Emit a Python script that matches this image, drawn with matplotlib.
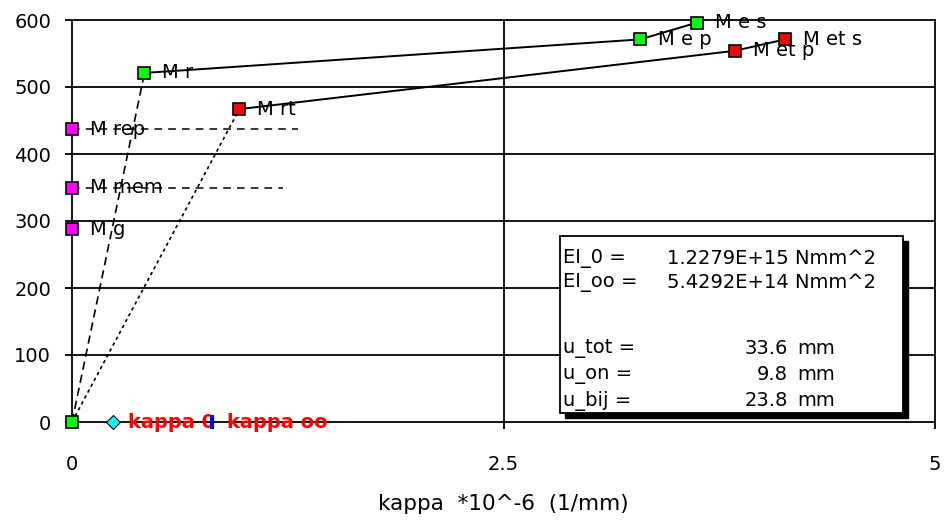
import matplotlib
matplotlib.use("Agg")
import matplotlib.pyplot as plt
from matplotlib.patches import Rectangle

# ---- data ----
green_labels = ["", "M r", "M e p", "M e s"]
green_x = [0.0, 0.42, 3.29, 3.62]
green_y = [0, 521, 571, 596]

red_labels = ["", "M rt", "M et p", "M et s"]
red_x = [0.0, 0.97, 3.84, 4.13]
red_y = [0, 467, 554, 571]

mag_labels = ["M rep", "M mem", "M g"]
mag_y = [437, 350, 288]
mag_line_end = [1.31, 1.22, None]

kappa_labels = ["kappa 0", "kappa oo"]
kappa_x = [0.24, 0.81]

x_ticks = [0, 2.5, 5]
x_ticklabels = ["0", "2.5", "5"]
y_ticks = [0, 100, 200, 300, 400, 500, 600]

box_left = ["EI_0 =", "EI_oo =", "", "u_tot =", "u_on =", "u_bij ="]
box_vals = ["1.2279E+15 Nmm^2", "5.4292E+14 Nmm^2", "", "33.6", "9.8", "23.8"]
box_units = ["", "", "", "mm", "mm", "mm"]

W, H = 944, 521
fs = 14
plt.rcParams['font.family'] = ['DejaVu Sans']

fig = plt.figure(figsize=(W / 100, H / 100), dpi=100)
ax = fig.add_axes([72 / W, 1 - 422 / H, (935 - 72) / W, (422 - 20) / H])
ax.set_xlim(0, 5)
ax.set_ylim(0, 600)

# grid
for y in y_ticks[1:-1]:
    ax.axhline(y, color='black', lw=1.3, zorder=1)
ax.axvline(2.5, color='black', lw=1.3, zorder=1)
for s in ax.spines.values():
    s.set_color('black')
    s.set_linewidth(1.3)

ax.set_xticks(x_ticks)
ax.set_xticklabels(x_ticklabels)
ax.set_yticks(y_ticks)
ax.tick_params(axis='both', direction='out', length=5, width=1.3, labelsize=fs, colors='black')
ax.tick_params(axis='x', pad=19)
ax.tick_params(axis='y', pad=10)
ax.set_xlabel("kappa  *10^-6  (1/mm)", fontsize=15.5, labelpad=14)

# curves: initial branches
ax.plot(green_x[:2], green_y[:2], color='black', lw=1.2, ls=(0, (5, 3)), zorder=2)
ax.plot(red_x[:2], red_y[:2], color='black', lw=1.2, ls=(0, (2, 2)), zorder=2)
ax.plot(green_x[1:], green_y[1:], color='black', lw=1.4, zorder=2)
ax.plot(red_x[1:], red_y[1:], color='black', lw=1.4, zorder=2)

# magenta dashed lines
for yv, xe in zip(mag_y, mag_line_end):
    if xe is not None:
        ax.plot([0, xe], [yv, yv], color='black', lw=1.1, ls=(0, (5, 4)), zorder=2)

ms = 9
ax.plot(green_x, green_y, ls='none', marker='s', ms=ms, mfc='#00ff00', mec='black', mew=1.2, zorder=5, clip_on=False)
ax.plot(red_x[1:], red_y[1:], ls='none', marker='s', ms=ms, mfc='#ff0000', mec='black', mew=1.2, zorder=5, clip_on=False)
ax.plot([0] * len(mag_y), mag_y, ls='none', marker='s', ms=ms, mfc='#ff00ff', mec='black', mew=1.2, zorder=5, clip_on=False)

for lab, x, y in zip(green_labels, green_x, green_y):
    if lab:
        ax.annotate(lab, (x, y), xytext=(18, 0), textcoords='offset pixels', va='center', ha='left', fontsize=fs, zorder=4)
for lab, x, y in zip(red_labels, red_x, red_y):
    if lab:
        ax.annotate(lab, (x, y), xytext=(18, 0), textcoords='offset pixels', va='center', ha='left', fontsize=fs, zorder=4)
for lab, y in zip(mag_labels, mag_y):
    ax.annotate(lab, (0, y), xytext=(18, 0), textcoords='offset pixels', va='center', ha='left', fontsize=fs, zorder=4)

# kappa markers
ax.plot([kappa_x[0]], [0], ls='none', marker='D', ms=7, mfc='#00ffff', mec='black', mew=0.8, zorder=5, clip_on=False)
for lab, x in zip(kappa_labels, kappa_x):
    ax.annotate(lab, (x, 0), xytext=(15, 0), textcoords='offset pixels', va='center', ha='left',
                fontsize=fs, color='#ff0000', fontweight='bold', zorder=4)
ax.plot([kappa_x[1]], [0], ls='none', marker='|', ms=10, mec='#0000ff', mew=3, zorder=6, clip_on=False)

# text box (figure pixel coordinates)
def fx(px):
    return px / W

def fy(py):
    return 1 - py / H

bl, bt, br, bb = 560, 236, 903, 413
shadow = Rectangle((fx(bl + 5), fy(bb + 5)), fx(br - bl), (bb - bt) / H, transform=fig.transFigure,
                   facecolor='black', edgecolor='black', zorder=10)
box = Rectangle((fx(bl), fy(bb)), fx(br - bl), (bb - bt) / H, transform=fig.transFigure,
                facecolor='white', edgecolor='black', lw=1.3, zorder=11)
fig.add_artist(shadow)
fig.add_artist(box)
rows_y = [258, 283, 310, 348, 374, 401]
for yv, l, v, u in zip(rows_y, box_left, box_vals, box_units):
    if l:
        fig.text(fx(563), fy(yv), l, fontsize=fs, va='center', ha='left', zorder=12)
    if v and not u:
        fig.text(fx(667), fy(yv), v, fontsize=fs, va='center', ha='left', zorder=12)
    elif v:
        fig.text(fx(788), fy(yv), v, fontsize=fs, va='center', ha='right', zorder=12)
        fig.text(fx(797), fy(yv), u, fontsize=fs, va='center', ha='left', zorder=12)

fig.savefig("out.png", dpi=100)
